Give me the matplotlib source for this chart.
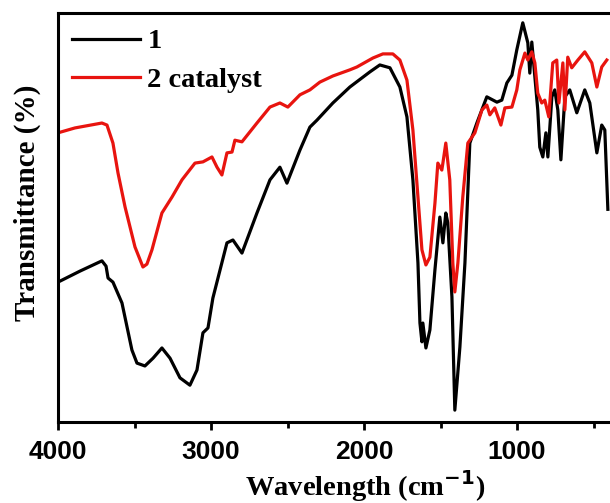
import matplotlib
matplotlib.use("Agg")
import matplotlib.pyplot as plt
from matplotlib.ticker import MultipleLocator, NullLocator

# wavenumber (cm-1) and transmittance (arbitrary units)
wn1 = [4000, 3856, 3713, 3686, 3673, 3641, 3582, 3517, 3484, 3432, 3379, 3321, 3268, 3203,
       3138, 3092, 3053, 3020, 2988, 2896, 2857, 2798, 2700, 2615, 2550, 2504, 2419, 2354,
       2308, 2204, 2093, 1962, 1897, 1831, 1766, 1720, 1681, 1648, 1635, 1622, 1616, 1596,
       1570, 1537, 1505, 1485, 1466, 1453, 1426, 1407, 1374, 1341, 1309, 1263, 1198, 1132,
       1100, 1067, 1034, 1002, 963, 930, 917, 904, 865, 852, 832, 812, 799, 773, 754, 734,
       714, 688, 656, 610, 558, 525, 479, 447, 427, 407]
t1 = [34.2, 36.9, 39.4, 38.1, 35.2, 34.2, 29.1, 17.6, 14.4, 13.7, 15.6, 18.1, 15.6, 10.8,
      9.0, 12.7, 21.8, 23.0, 30.3, 43.8, 44.5, 41.3, 51.1, 59.2, 62.3, 58.4, 66.5, 72.1,
      73.8, 78.0, 81.9, 85.6, 87.3, 86.6, 81.9, 74.6, 59.2, 38.9, 24.2, 19.6, 24.2, 18.1,
      22.5, 37.2, 50.1, 43.8, 51.1, 48.7, 30.6, 2.9, 18.3, 38.9, 68.2, 73.1, 79.5, 78.2,
      78.7, 82.9, 84.8, 91.0, 97.6, 92.7, 85.3, 92.9, 76.3, 67.2, 64.8, 70.7, 64.8, 79.5,
      81.2, 76.3, 64.1, 79.5, 81.2, 75.6, 81.2, 78.0, 65.8, 72.6, 71.4, 52.0]

wn2 = [4000, 3889, 3713, 3680, 3641, 3608, 3562, 3497, 3445, 3419, 3386, 3321, 3255, 3190,
       3105, 3053, 2994, 2961, 2929, 2896, 2863, 2844, 2798, 2700, 2615, 2550, 2498, 2419,
       2354, 2289, 2204, 2093, 2047, 1942, 1877, 1812, 1766, 1720, 1681, 1648, 1622, 1596,
       1570, 1537, 1518, 1492, 1485, 1466, 1440, 1420, 1407, 1387, 1355, 1322, 1276, 1230,
       1198, 1178, 1146, 1106, 1080, 1034, 1002, 982, 949, 930, 904, 884, 865, 839, 819,
       793, 767, 741, 727, 701, 688, 669, 643, 603, 558, 512, 479, 447, 414]
t2 = [70.7, 71.9, 73.1, 72.6, 68.2, 60.9, 52.6, 42.8, 37.9, 38.6, 42.1, 51.1, 55.0, 59.2,
      63.3, 63.6, 64.8, 62.3, 60.4, 65.8, 66.0, 68.9, 68.5, 73.1, 77.0, 78.0, 77.0, 80.0,
      81.2, 83.1, 84.6, 86.1, 86.8, 89.0, 90.0, 90.0, 88.5, 83.6, 71.4, 55.0, 42.1, 38.4,
      40.3, 53.5, 63.3, 61.6, 63.3, 68.2, 59.2, 38.9, 31.8, 38.9, 55.0, 68.2, 70.7, 76.3,
      77.5, 75.1, 76.8, 72.6, 76.8, 77.0, 81.2, 86.1, 90.2, 88.5, 90.5, 87.8, 80.4, 78.0,
      78.7, 74.6, 87.8, 88.5, 78.0, 87.8, 76.3, 89.2, 86.6, 88.5, 90.5, 87.8, 81.9, 86.8, 88.5]

labels = ["1", "2 catalyst"]

serif = "Liberation Serif"
sans = "Liberation Sans"

fig = plt.figure(figsize=(6.1, 5.03), dpi=100)
ax = fig.add_axes([58 / 610, 81 / 503, 554 / 610, 409 / 503])

ax.plot(wn1, t1, color="black", lw=2.3, label=labels[0])
ax.plot(wn2, t2, color="#e8140f", lw=2.3, label=labels[1])

ax.set_xlim(4000, 380)
ax.set_ylim(0, 100)
ax.xaxis.set_major_locator(MultipleLocator(1000))
ax.xaxis.set_minor_locator(MultipleLocator(500))
ax.yaxis.set_major_locator(NullLocator())
ax.tick_params(axis="x", which="major", direction="out", length=6, width=2, pad=7)
ax.tick_params(axis="x", which="minor", direction="out", length=4, width=2)
for lab in ax.get_xticklabels():
    lab.set_fontfamily(sans)
    lab.set_fontweight("bold")
    lab.set_fontsize(19)
for sp in ax.spines.values():
    sp.set_linewidth(2.2)

ax.set_xlabel("Wavelength (cm$^{\\mathbf{-1}}$)", fontfamily=serif, fontweight="bold",
              fontsize=20.5)
ax.xaxis.set_label_coords(0.554, -0.112)
ax.set_ylabel("Transmittance (%)", fontfamily=serif, fontweight="bold", fontsize=21)
ax.yaxis.set_label_coords(-0.03, 0.535)

leg = ax.legend(loc="upper left", bbox_to_anchor=(0.025, 0.962), frameon=False,
                prop={"family": serif, "weight": "bold", "size": 20.5},
                handlelength=2.4, handletextpad=0.25, labelspacing=0.45,
                borderaxespad=0, borderpad=0)

fig.savefig("out.png", dpi=100)
